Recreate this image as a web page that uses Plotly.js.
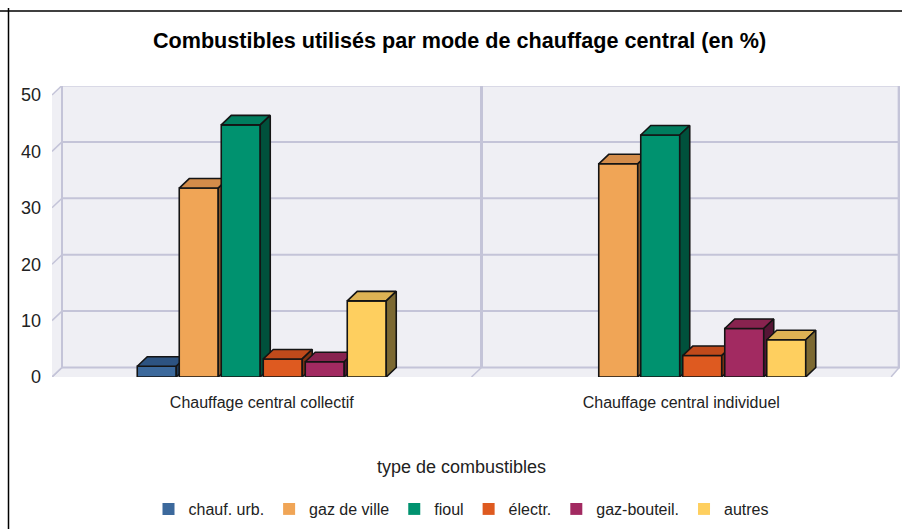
<!DOCTYPE html>
<html>
<head>
<meta charset="utf-8">
<script src="https://cdn.plot.ly/plotly-3.0.1.min.js"></script>
<style>html,body{margin:0;padding:0;background:#fff;}#chart{width:902px;height:529px;}</style>
</head>
<body>
<div id="chart"></div>
<script>
// ---- data ----
const categories = ['Chauffage central collectif', 'Chauffage central individuel'];
const fuels = ['chauf. urb.', 'gaz de ville', 'fioul', 'électr.', 'gaz-bouteil.', 'autres'];
const chaufUrb   = [1.9, 0];
const gazDeVille = [33.5, 37.8];
const fioul      = [44.7, 42.9];
const electr     = [3.2, 3.8];
const gazBouteil = [2.7, 8.6];
const autres     = [13.5, 6.6];
const yTicks = [0, 10, 20, 30, 40, 50];
const series = [chaufUrb, gazDeVille, fioul, electr, gazBouteil, autres];
const legendTitle = 'type de combustibles';

// ---- styles ----
const frontColors = ['#3C699C', '#F0A556', '#00926F', '#DE5A20', '#A22A61', '#FECF5F'];
const topColors   = ['#2D5381', '#D38C4A', '#007D5E', '#C04A1B', '#88234F', '#DEB354'];
const sideColors  = ['#1F3A5A', '#8A5A2A', '#00513C', '#7D3212', '#551535', '#7C6932'];
const FONT = 'Liberation Sans, Arial, sans-serif';
const W = 902, H = 529;
const ML = 52, MR = 2, MT = 86, MB = 152;
const PW = W - ML - MR, PH = H - MT - MB;
const PX_PER_CAT = 419.5, PX_PER_UNIT = 5.64;
const XR = [-0.5, -0.5 + PW / PX_PER_CAT];
const YR = [0, PH / PX_PER_UNIT];
const DX = 10 / PX_PER_CAT, DY = 9.5 / PX_PER_UNIT;
const SLOT = 42 / PX_PER_CAT, BARW = 39 / PX_PER_CAT;
const GRID = '#C4C4D8', WALL = '#EFEFF4', EDGE = '#141414';

const traces = [];
// legend + base bars
series.forEach((vals, k) => {
  traces.push({
    type: 'bar', name: fuels[k], x: categories.map((c, i) => i), y: vals,
    width: BARW, offset: (k - 2.5) * SLOT - BARW / 2,
    marker: {color: frontColors[k], line: {width: 0}},
    hoverinfo: 'skip'
  });
});
// pseudo 3D faces, painted left to right
categories.forEach((c, g) => {
  series.forEach((vals, k) => {
    const v = vals[g];
    if (!v) return;
    const x0 = g + (k - 2.5) * SLOT - BARW / 2, x1 = x0 + BARW;
    const faces = [
      {x: [x0, x1, x1, x0, x0], y: [0, 0, v, v, 0], c: frontColors[k]},
      {x: [x0, x1, x1 + DX, x0 + DX, x0], y: [v, v, v + DY, v + DY, v], c: topColors[k]},
      {x: [x1, x1 + DX, x1 + DX, x1, x1], y: [0, DY, v + DY, v, 0], c: sideColors[k]}
    ];
    faces.forEach(f => traces.push({
      type: 'scatter', mode: 'lines', x: f.x, y: f.y, fill: 'toself', fillcolor: f.c,
      line: {color: EDGE, width: 1.6}, showlegend: false, hoverinfo: 'skip'
    }));
  });
});

// walls and grid (decoration)
const shapes = [];
shapes.push({type: 'path', xref: 'x', yref: 'y', layer: 'below', fillcolor: WALL, line: {width: 0},
  path: `M${XR[0]},0 L${XR[0]},${YR[1] - DY} L${XR[0] + DX},${YR[1]} L${XR[1]},${YR[1]} L${XR[1]},${DY} L${XR[1] - DX},0 Z`});
yTicks.forEach(v => {
  shapes.push({type: 'line', xref: 'x', yref: 'y', layer: 'below', x0: XR[0] + DX, x1: XR[1], y0: v + DY, y1: v + DY, line: {color: GRID, width: 2}});
  shapes.push({type: 'line', xref: 'x', yref: 'y', layer: 'below', x0: XR[0], x1: XR[0] + DX, y0: v, y1: v + DY, line: {color: GRID, width: 1.5}});
});
[XR[0], 0.5, 1.5].forEach((b, i) => {
  const xb = Math.min(b + DX, XR[1] - 0.002);
  shapes.push({type: 'line', xref: 'x', yref: 'y', layer: 'below', x0: xb, x1: xb, y0: DY, y1: YR[1], line: {color: GRID, width: i === 0 ? 2 : 3}});
  shapes.push({type: 'line', xref: 'x', yref: 'y', layer: 'below', x0: b, x1: xb, y0: 0, y1: DY, line: {color: GRID, width: 1.5}});
});
// outer frame fragments
const px2x = p => (p - ML) / PW, py2y = p => (MT + PH - p) / PH;
shapes.push({type: 'line', xref: 'paper', yref: 'paper', x0: px2x(0), x1: px2x(W), y0: py2y(11), y1: py2y(11), line: {color: '#000', width: 1.5}});
shapes.push({type: 'line', xref: 'paper', yref: 'paper', x0: px2x(8.5), x1: px2x(8.5), y0: py2y(8), y1: py2y(H), line: {color: '#000', width: 1.5}});

const layout = {
  width: W, height: H,
  margin: {l: ML, r: MR, t: MT, b: MB, pad: 0},
  paper_bgcolor: '#fff', plot_bgcolor: 'rgba(0,0,0,0)',
  font: {family: FONT, color: '#222'},
  title: {text: '<b>Combustibles utilisés par mode de chauffage central (en %)</b>',
    font: {family: FONT, size: 21.6, color: '#000'}, x: 459.5 / W, xanchor: 'center', y: 1 - 40 / H, yanchor: 'middle'},
  barmode: 'overlay',
  showlegend: true,
  xaxis: {range: XR, tickvals: [0, 1], ticktext: categories, showgrid: false, zeroline: false, showline: false,
    ticks: '', tickfont: {size: 16, family: FONT, color: '#222'}, ticklabelstandoff: 14, fixedrange: true},
  yaxis: {range: YR, tickvals: yTicks, showgrid: false, zeroline: false, showline: false,
    ticks: '', tickfont: {size: 18, family: FONT, color: '#222'}, ticklabelstandoff: 10, fixedrange: true},
  legend: {orientation: 'h', x: px2x(461), xanchor: 'center', y: py2y(492), yanchor: 'top',
    font: {size: 16, family: FONT, color: '#222'}, traceorder: 'normal'},
  annotations: [{text: legendTitle, xref: 'paper', yref: 'paper', x: px2x(461), y: py2y(467),
    xanchor: 'center', yanchor: 'middle', showarrow: false, font: {size: 18, family: FONT, color: '#222'}}],
  shapes: shapes
};
Plotly.newPlot('chart', traces, layout, {displayModeBar: false, staticPlot: true});
</script>
</body>
</html>
